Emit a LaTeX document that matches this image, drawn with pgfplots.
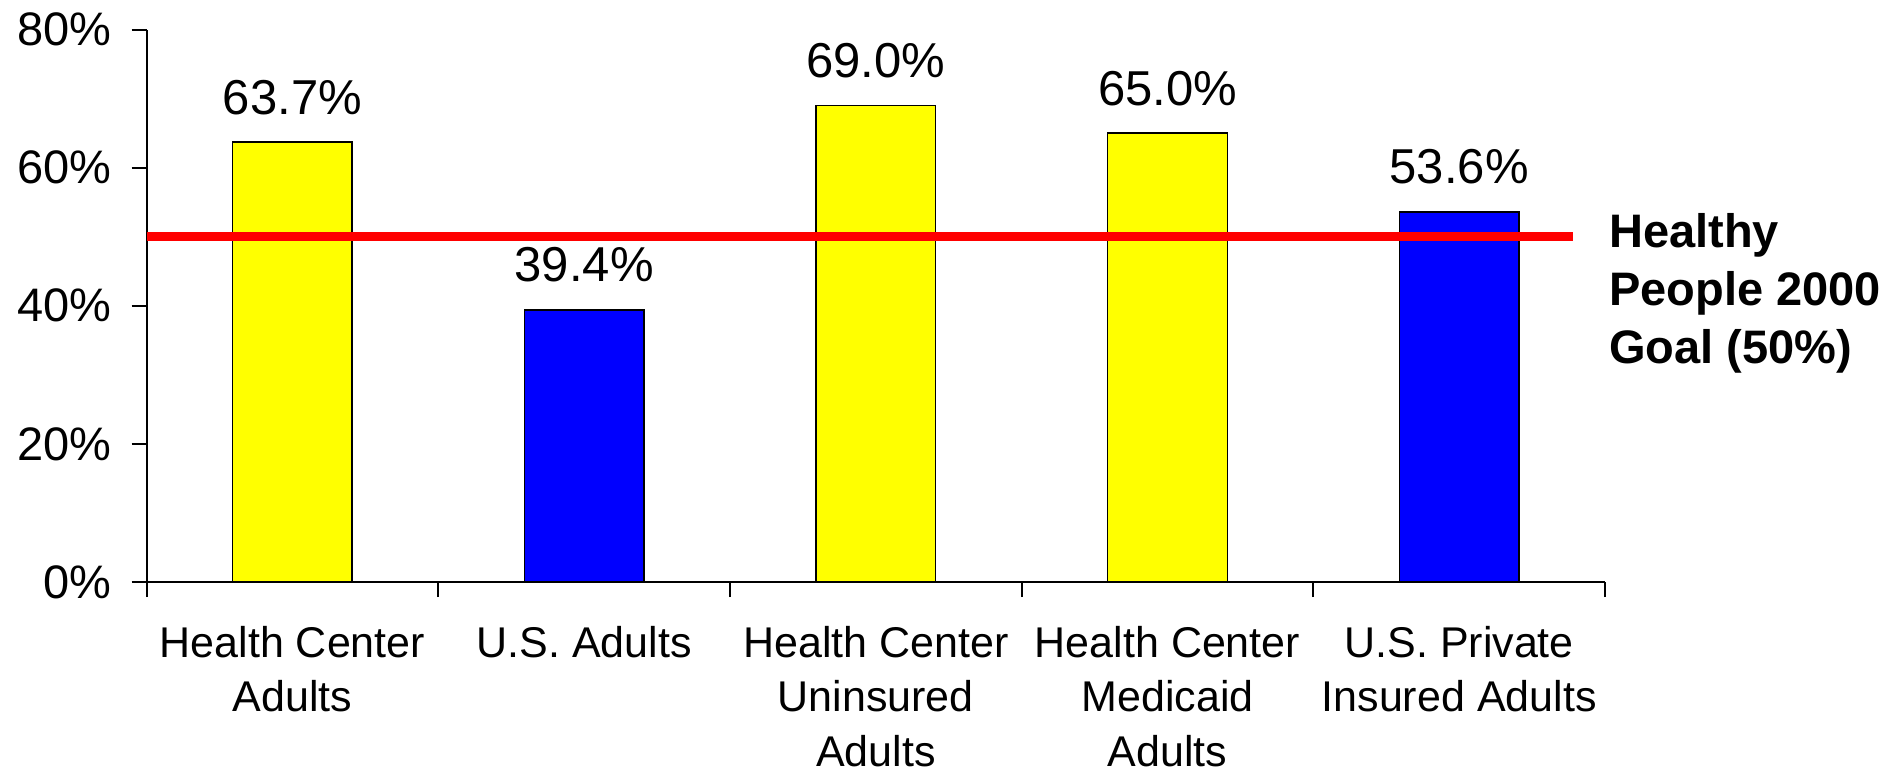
\documentclass[border=0pt]{standalone}
\usepackage{fontspec}
\setmainfont{Liberation Sans}
\usepackage{pgfplots}
\pgfplotsset{compat=1.18}
\definecolor{hcyellow}{RGB}{255,255,0}
\definecolor{usblue}{RGB}{0,0,255}
\definecolor{goalred}{RGB}{255,0,0}

\begin{document}
\begin{tikzpicture}
\begin{axis}[
    scale only axis,
    width=729.2pt, height=276.25pt,
    xmin=-0.5, xmax=4.5, ymin=0, ymax=80,
    axis x line*=bottom, axis y line*=left,
    axis line style={line width=1pt},
    tick align=outside,
    major tick length=7.5pt,
    every tick/.style={black, line width=1pt},
    ytick={0,20,40,60,80},
    yticklabel={\pgfmathprintnumber{\tick}\%},
    yticklabel style={font=\fontsize{23.5}{28}\selectfont, xshift=-6.5pt},
    % category boundaries carry the ticks, the names sit between them
    xtick={-0.5,0.5,1.5,2.5,3.5,4.5},
    xticklabels={,,,,,},
    extra x ticks={0,1,2,3,4},
    extra x tick labels={{Health Center\\Adults},{U.S. Adults},{Health Center\\Uninsured\\Adults},{Health Center\\Medicaid\\Adults},{U.S. Private\\Insured Adults}},
    extra x tick style={major tick length=0pt,
        xticklabel style={align=center, font=\fontsize{21.5}{27.2}\selectfont, yshift=-18.5pt}},
    /pgf/number format/assume math mode=true,
    clip=false,
]
% yellow: health center groups
\addplot[ybar, bar width=0.41, fill=hcyellow, draw=black, line width=0.75pt,
    nodes near coords={\pgfmathprintnumber[fixed,fixed zerofill,precision=1]{\pgfplotspointmeta}\%},
    every node near coord/.append style={anchor=base, yshift=14pt, font=\fontsize{24.5}{28}\selectfont}]
    coordinates {(0,63.7) (2,69.0) (3,65.0)};
% blue: U.S. groups
\addplot[ybar, bar width=0.41, fill=usblue, draw=black, line width=0.75pt,
    nodes near coords={\pgfmathprintnumber[fixed,fixed zerofill,precision=1]{\pgfplotspointmeta}\%},
    every node near coord/.append style={anchor=base, yshift=14pt, font=\fontsize{24.5}{28}\selectfont}]
    coordinates {(1,39.4) (4,53.6)};
% goal line
\addplot[goalred, line width=4.2pt] coordinates {(-0.5,50) (4.39,50)};
\node[anchor=base west, font=\fontsize{23.5}{28}\selectfont\bfseries] at (axis cs:4.49,48.5) {Healthy};
\node[anchor=base west, font=\fontsize{23.5}{28}\selectfont\bfseries] at (axis cs:4.49,40.0) {People 2000};
\node[anchor=base west, font=\fontsize{23.5}{28}\selectfont\bfseries] at (axis cs:4.49,31.7) {Goal (50\%)};
\end{axis}
\pgfresetboundingbox
\useasboundingbox (-73.3pt,-95pt) rectangle (868.7pt,291pt);
\end{tikzpicture}
\end{document}
